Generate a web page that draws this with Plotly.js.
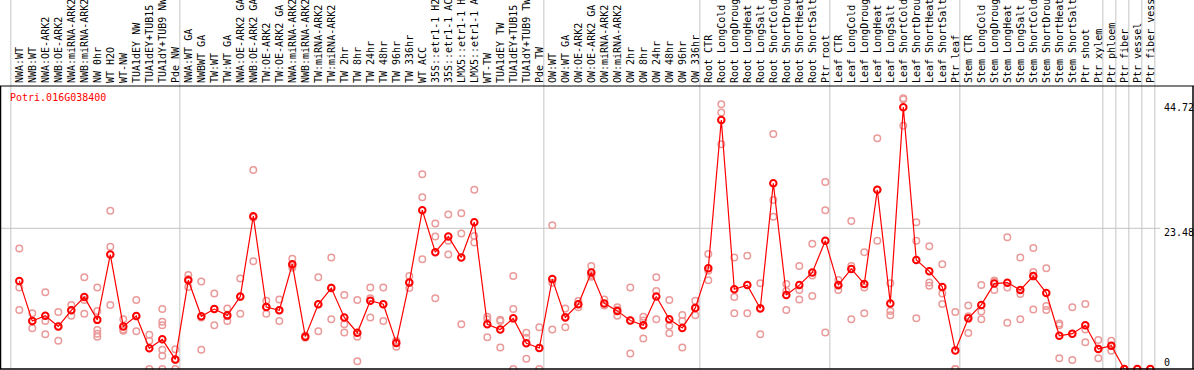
<!DOCTYPE html>
<html><head><meta charset="utf-8">
<script src="https://cdn.plot.ly/plotly-3.0.1.min.js"></script>
<style>html,body{margin:0;padding:0;background:#fff;overflow:hidden}#chart{width:1194px;height:370px}</style>
</head><body><div id="chart"></div>
<script>
const geneName = "Potri.016G038400";

const categories = [
  "NWA:WT","NWB:WT","NWA:OE-ARK2","NWB:OE-ARK2","NWA:miRNA-ARK2","NWB:miRNA-ARK2","NW 0hr","WT H2O","WT-NW",
  "TUA1dEY NW","TUA1dEY+TUB15","TUA1dY+TUB9 NW","Pde NW",
  "NWA:WT GA","NWBWT GA","TW:WT","TW:WT GA","NWA:OE-ARK2 GA","NWB:OE-ARK2 GA","TW:OE-ARK2","TW:OE-ARK2 GA",
  "NWA:miRNA-ARK2","NWB:miRNA-ARK2","TW:miRNA-ARK2","TW:miRNA-ARK2","TW 2hr","TW 8hr","TW 24hr","TW 48hr","TW 96hr",
  "TW 336hr","WT ACC","35S::etr1-1 H2","35S::etr1-1 AC","LMX5::etr1-1 H","LMX5::etr1-1 A","WT-TW","TUA1dEY TW",
  "TUA1dEY+TUB15","TUA1dY+TUB9 TW","Pde TW",
  "OW:WT","OW:WT GA","OW:OE-ARK2","OW:OE-ARK2 GA","OW:miRNA-ARK2","OW:miRNA-ARK2","OW 2hr","OW 8hr","OW 24hr",
  "OW 48hr","OW 96hr","OW 336hr",
  "Root CTR","Root LongCold","Root LongDroug","Root LongHeat","Root LongSalt","Root ShortCold","Root ShortDrou",
  "Root ShortHeat","Root ShortSalt","Ptr root",
  "Leaf CTR","Leaf LongCold","Leaf LongDroug","Leaf LongHeat","Leaf LongSalt","Leaf ShortCold","Leaf ShortDrou",
  "Leaf ShortHeat","Leaf ShortSalt","Ptr leaf",
  "Stem CTR","Stem LongCold","Stem LongDroug","Stem LongHeat","Stem LongSalt","Stem ShortCold","Stem ShortDrou",
  "Stem ShortHeat","Stem ShortSalt","Ptr shoot","Ptr xylem",
  "Ptr phloem","Ptr fiber","Ptr vessel","Ptr fiber vess"
];

const meanValues = [
  14.7, 8.0, 8.9, 7.1, 9.8, 12.0, 8.2, 19.1, 7.1, 8.85, 3.45, 4.95, 1.6,
  14.8, 8.8, 10.0, 8.95, 12.1, 25.5, 10.35, 9.8, 17.5, 5.4, 10.8, 13.5, 8.6, 6.05, 11.4, 10.8, 4.35,
  14.45, 26.5, 19.5, 22.1, 18.6, 24.5, 7.45, 6.6, 8.45, 4.3, 3.5,
  15.0, 8.6, 10.8, 16.1, 10.95, 9.7, 8.1, 7.3, 12.1, 8.3, 6.85, 10.2,
  16.8, 41.55, 13.3, 14.0, 10.1, 31.0, 12.35, 14.0, 16.1, 21.4,
  14.0, 16.7, 14.2, 29.9, 10.95, 43.7, 18.2, 16.3, 13.7, 3.1,
  8.45, 10.7, 14.25, 14.4, 13.2, 15.5, 12.7, 5.55, 5.9, 7.3, 3.35,
  3.9, 0, 0, 0
];

const replicates = [
  [20.1,13.6,9.85],[9.3,8.0,6.8],[12.8,8.0,5.8],[9.5,7.1,4.7],[10.7,9.8,8.9],[15.3,11.5,9.2],
  [13.6,9.7,6.5,5.9,5.4],[26.4,20.4,10.7],[8.3,6.6,6.4],[11.5,8.8,6.3],[5.7,4.7,0],
  [10.0,7.9,7.3,3.2,2.2,0],[3.3,1.5,0],
  [15.7,13.7,15.0],[14.6,8.6,3.2],[12.6,10.0,7.3],[10.1,8.8,8.0],[15.1,12.0,9.2],[33.2,25.3,18.0],
  [11.4,10.4,9.2],[11.6,9.8,8.0],[18.4,17.2,16.9],[5.6,5.2],[15.3,10.8,6.3],[18.6,13.6,8.3],
  [12.35,7.45,6.1],[11.5,5.4,1.3],[13.6,11.8,8.6],[13.6,10.8,8.0],[4.7,4.6,3.7],[15.5,14.4,13.5],
  [32.5,28.65,18.3],[24.3,22.1,11.8],[25.8,21.4,19.1],[26.0,22.6,7.45],[29.9,22.2,21.1],
  [8.7,8.3,5.3],[8.2,8.0,3.6],[15.5,10.0,0],[6.05,5.2,1.7],[6.95,3.5,0],
  [24.0,14.4,6.6],[10.1,8.7,6.95],[11.35,10.8,10.3],[17.2,15.7,15.4],[11.6,10.6],[10.3,9.9,8.9],
  [13.6,8.1,2.6],[8.7,8.1,5.1],[15.3,13.0,8.3],[11.5,7.2,5.95],[9.0,8.0,3.6],[11.4,10.2,8.95],
  [19.2,16.4,14.8],[44.2,42.8,37.5],[18.6,12.0,9.3],[18.9,14.0,9.3],[14.3,10.2,5.8],[39.2,28.2,25.4],
  [14.2,13.0,9.85],[17.2,13.2,11.6],[20.9,15.6,12.2],[31.2,26.5,6.1],
  [14.85,13.9,13.2],[24.7,17.2,8.3],[19.5,13.6,9.3],[38.5,29.9,21.4],[14.3,9.7,8.95],[45.2,45.0,40.6],
  [24.5,21.4,8.45],[20.5,14.45,13.9],[17.5,12.6,10.85],[9.5,0,0],
  [10.6,8.8,6.0],[14.0,9.6,8.3],[14.75,14.6,13.2],[22.0,13.6,7.7],[18.6,12.5,8.3],[20.2,16.2,9.95],
  [16.8,10.5,9.85],[7.6,7.3,1.8],[10.3,5.9,1.5],[10.85,6.6,4.45],[4.85,3.4,1.8],
  [4.7,3.9,3.05],[0,0],[0,0],[0,0]
];

// index of the first category of each tissue group (last entry = end)
const groupStarts = [0, 13, 41, 53, 63, 73, 84, 85, 86, 87, 88];

const yLabelValues = [44.72, 23.48, 0];
const yLabelTexts = ["44.72", "23.48", "0"];
const gridValue = 23.48;

// ---- build ----
const W = 1194, H = 370, T = 86, B = 1;
const pxPerUnit = 5.992;
const yMax = (H - T - B) / pxPerUnit;
const firstPx = 19.3, stepPx = 13;
const idx = categories.map((_, i) => i);

const repX = [], repY = [];
replicates.forEach((arr, i) => arr.forEach(v => { repX.push(i); repY.push(v); }));

const mono = "DejaVu Sans Mono, monospace";
const gray = "#c4c4c4";
const paperTop = 1 + T / (H - T - B);

const shapes = [];
groupStarts.forEach(s => {
  shapes.push({type:"line", layer:"below", xref:"x", yref:"paper", x0:s-0.65, x1:s-0.65, y0:0, y1:paperTop,
    line:{color:gray, width:1}});
});
shapes.push({type:"line", layer:"below", xref:"paper", yref:"y", x0:0, x1:1160/W, y0:gridValue, y1:gridValue,
  line:{color:gray, width:1}});
// frame
shapes.push({type:"line", xref:"paper", yref:"paper", x0:0, x1:1, y0:1, y1:1, line:{color:"#000", width:1}});
shapes.push({type:"line", xref:"paper", yref:"paper", x0:0, x1:1, y0:0, y1:0, line:{color:"#000", width:1.5}});
shapes.push({type:"line", xref:"paper", yref:"paper", x0:0.5/W, x1:0.5/W, y0:0, y1:1, line:{color:"#000", width:1.5}});
shapes.push({type:"line", xref:"paper", yref:"paper", x0:1193/W, x1:1193/W, y0:0, y1:1, line:{color:"#000", width:1.5}});

const yShifts = [-6, -4, 7];
const annotations = yLabelValues.map((v, k) => ({
  xref:"paper", yref:"y", x:1162/W, y:v, xanchor:"left", yanchor:"middle", yshift:yShifts[k],
  text:yLabelTexts[k], showarrow:false, font:{family:mono, size:10, color:"#000"}
}));
annotations.push({xref:"paper", yref:"paper", x:8/W, y:1 - 11/(H - T - B), xanchor:"left", yanchor:"middle",
  text:geneName, showarrow:false, font:{family:mono, size:10, color:"#ff0000"}});

const traces = [
  {type:"scatter", mode:"markers", x:repX, y:repY, cliponaxis:false, hoverinfo:"skip",
   marker:{symbol:"circle-open", size:6.5, color:"#eb9a9a", line:{width:1.5}}},
  {type:"scatter", mode:"lines+markers", x:idx, y:meanValues, cliponaxis:false,
   line:{color:"#ff0000", width:1.2},
   marker:{symbol:"circle-open", size:6.5, color:"#ff0000", line:{width:2}}}
];

const layout = {
  width:W, height:H, margin:{l:0, r:0, t:T, b:B, pad:0},
  paper_bgcolor:"#fff", plot_bgcolor:"#fff", showlegend:false,
  xaxis:{range:[-firstPx/stepPx, (W - firstPx)/stepPx], side:"top", tickmode:"array", tickvals:idx,
    ticktext:categories, tickangle:-90, tickfont:{family:mono, size:10, color:"#000"}, ticklabelstandoff:2,
    showgrid:false, zeroline:false, showline:false, ticks:"", automargin:false, fixedrange:true},
  yaxis:{range:[0, yMax], showgrid:false, zeroline:false, showticklabels:false, ticks:"", showline:false,
    automargin:false, fixedrange:true},
  shapes:shapes, annotations:annotations
};

Plotly.newPlot("chart", traces, layout, {staticPlot:true, displayModeBar:false});
</script>
</body></html>
